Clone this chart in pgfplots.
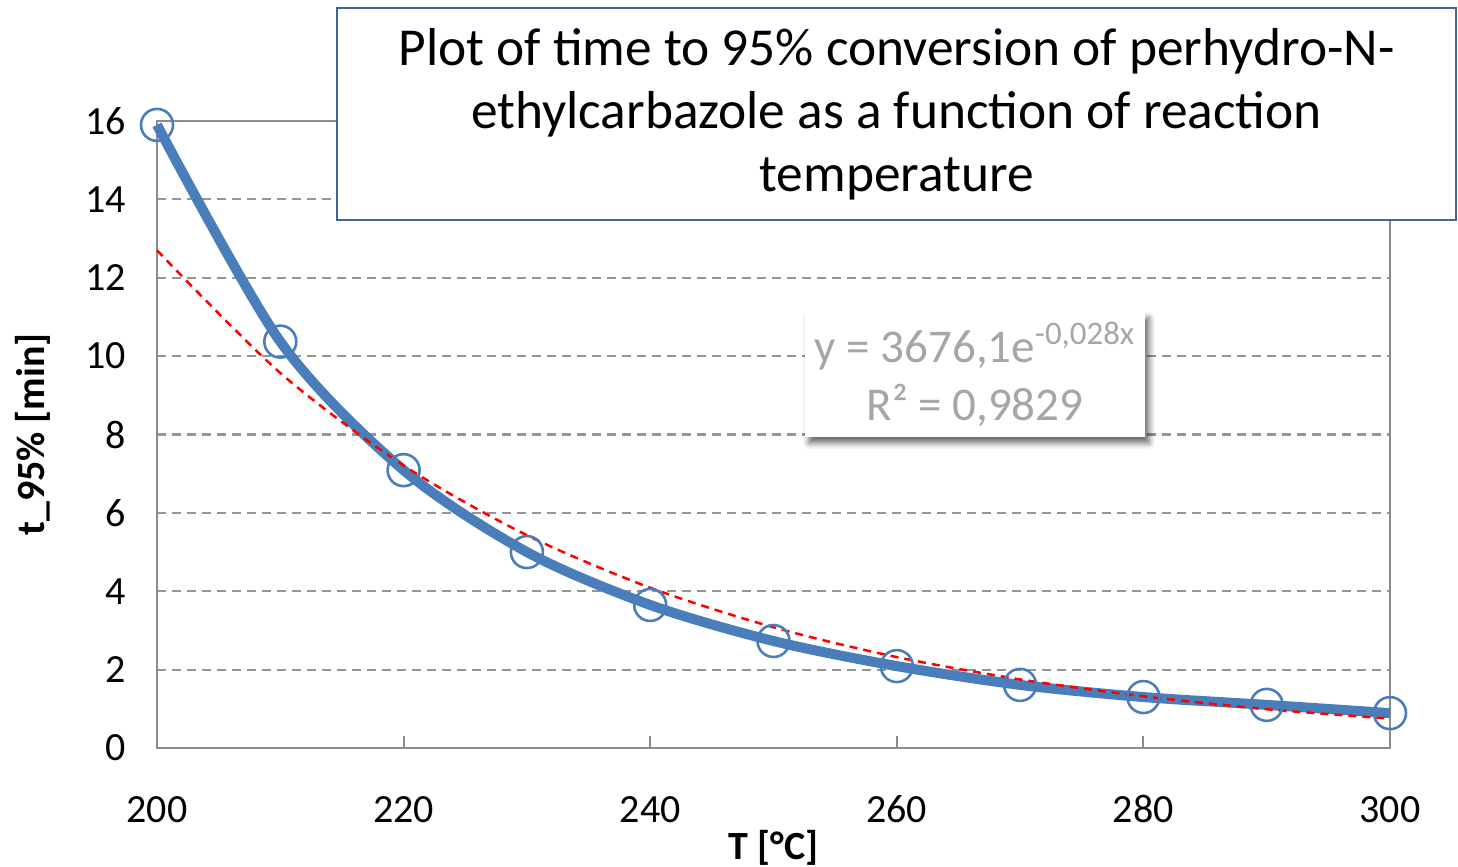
\documentclass[border=0pt]{standalone}
\usepackage{fontspec}
\setmainfont{Carlito}
\usepackage{pgfplots}
\pgfplotsset{compat=1.18}
\usetikzlibrary{shadows.blur}
\definecolor{axgray}{HTML}{8C8C8C}
\definecolor{gridgray}{HTML}{959595}
\definecolor{serblue}{HTML}{4A7EBB}
\definecolor{boxblue}{HTML}{41659E}
\definecolor{trendgray}{HTML}{A6A6A6}
\begin{document}
\begin{tikzpicture}
\useasboundingbox (-78.5pt,-59.5pt) rectangle (650.5pt,374pt);
\begin{axis}[at={(0,0)}, anchor=south west, scale only axis,
  width=616.5pt, height=313.5pt,
  xmin=200, xmax=300, ymin=0, ymax=16,
  xtick={200,220,...,300}, ytick={0,2,...,16},
  axis line style={axgray, line width=1pt},
  ymajorgrids, major grid style={gridgray, line width=1.1pt, dash pattern=on 4.5pt off 3pt},
  xtick style={axgray, line width=1pt}, major tick length=6pt, tick pos=left,
  ytick style={draw=none},
  tick label style={font=\fontsize{20}{24}\selectfont},
  /pgf/number format/assume math mode=true,
  xticklabel style={anchor=base, yshift=-37.5pt},
  yticklabel style={xshift=-12pt},
  xlabel={T [°C]}, ylabel={t\_95\% [min]},
  label style={font=\fontsize{20}{24}\selectfont\bfseries},
  xlabel style={at={(axis description cs:0.5,-0.1595)}, anchor=center},
  ylabel style={at={(axis description cs:-0.1006,0.5)}, anchor=center},
  clip=false,
]
\addplot[serblue, line width=5pt, smooth, mark=o, mark size=8pt,
  mark options={line width=1.3pt, fill=none, solid}] coordinates {
  (200,15.9) (210,10.37) (220,7.09) (230,5.0) (240,3.65) (250,2.73)
  (260,2.09) (270,1.61) (280,1.30) (290,1.10) (300,0.89)};
\addplot[red, line width=1.25pt, dash pattern=on 4pt off 3pt, smooth] coordinates {
  (200,12.7) (210,9.57) (220,7.21) (230,5.43) (240,4.09) (250,3.08)
  (260,2.32) (270,1.75) (280,1.32) (290,0.99) (300,0.75)};
\end{axis}
\node[draw=boxblue, line width=1pt, fill=white, minimum width=559.5pt,
  minimum height=106pt, inner sep=0pt, align=center,
  font=\fontsize{26.7}{31.5}\selectfont] at (369.75pt,317pt)
  {\raisebox{-2pt}{\parbox{550pt}{\centering Plot of time to 95\% conversion of perhydro-N-\\ethylcarbazole as a function of reaction\\temperature}}};
\node[fill=white, minimum width=170pt, minimum height=62.5pt, inner sep=0pt,
  align=center, text=trendgray, font=\fontsize{23.5}{29}\selectfont,
  blur shadow={shadow xshift=2pt, shadow yshift=-3pt, shadow blur radius=3pt, shadow opacity=60}]
  at (409pt,186.75pt) {y = 3676,1e\textsuperscript{-0,028x}\\R² = 0,9829};
\end{tikzpicture}
\end{document}
